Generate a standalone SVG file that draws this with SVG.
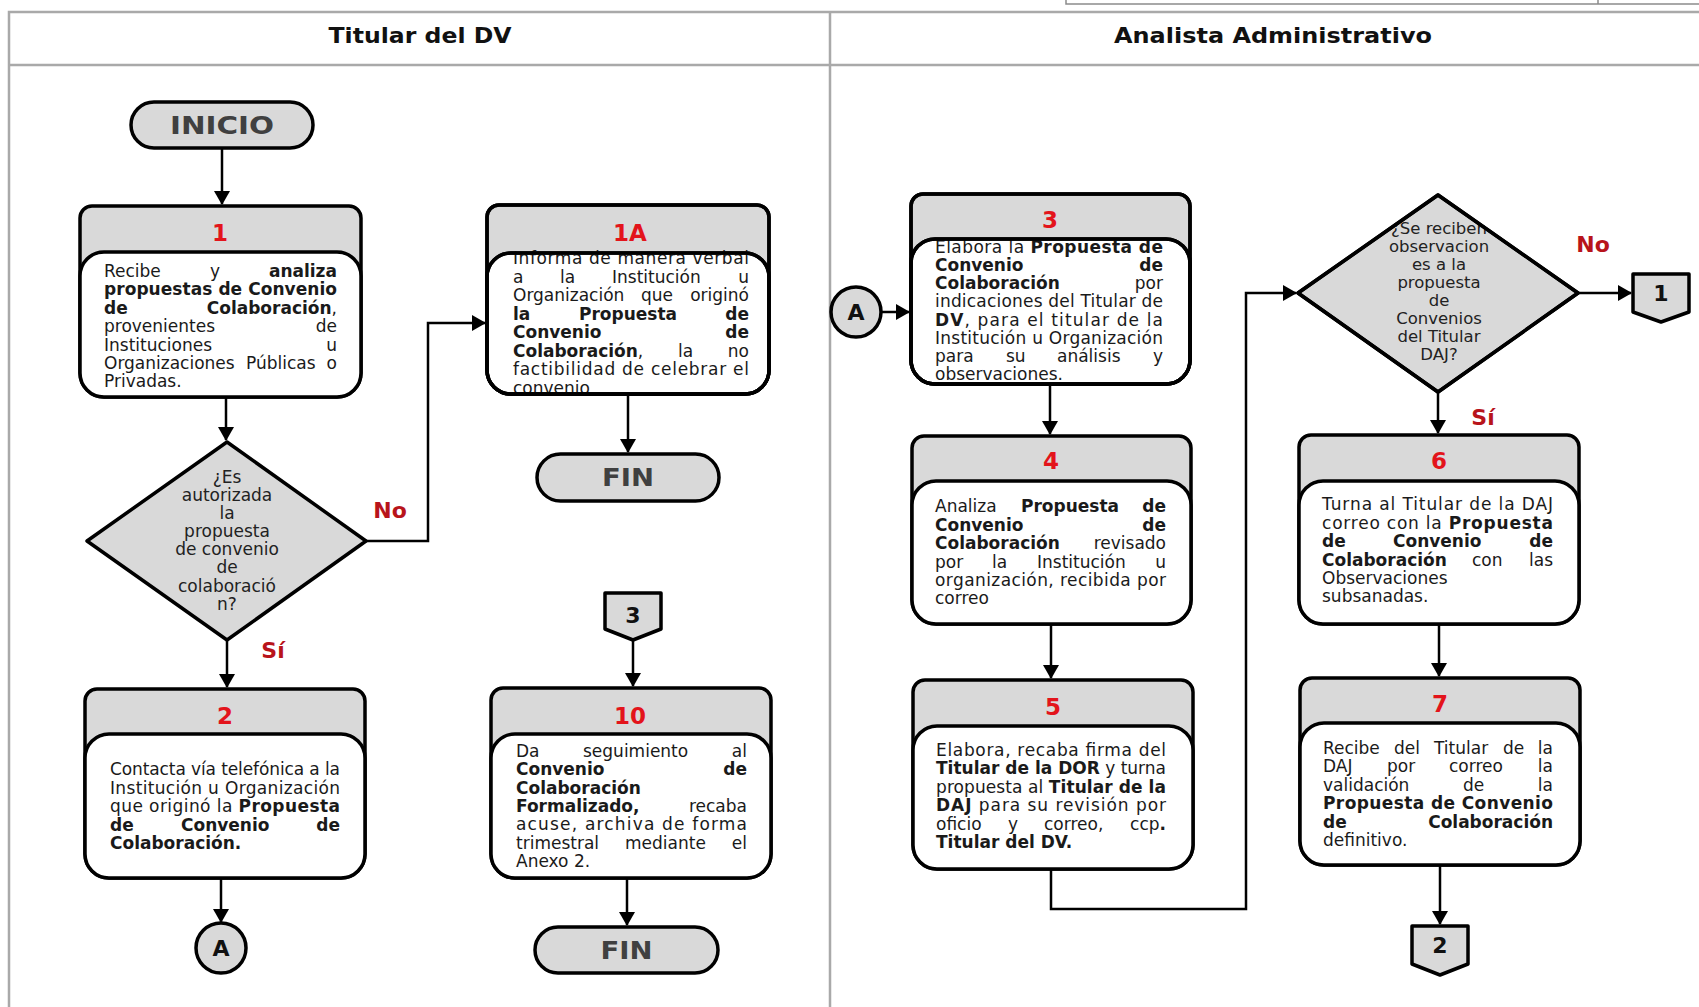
<svg xmlns="http://www.w3.org/2000/svg" width="1699" height="1007" viewBox="0 0 1699 1007">
  <defs>
    <style>
      .frame { fill: none; stroke: #a9a9a9; stroke-width: 2.5; }
      .tbox { fill: none; stroke: #8c8c8c; stroke-width: 1.5; }
      .hdr { font-family: "DejaVu Sans", Verdana, sans-serif; font-weight: bold; font-size: 22px; fill: #111; text-anchor: middle; }
      .shape { fill: #d9d9d9; stroke: #000; stroke-width: 3.5; stroke-linejoin: round; }
      .white { fill: #fff; stroke: #000; stroke-width: 3.5; }
      .outline { fill: none; stroke: #000; stroke-width: 3.5; stroke-linejoin: round; }
      .num { font-family: "DejaVu Sans", Verdana, sans-serif; font-weight: bold; font-size: 23px; fill: #e3141b; text-anchor: middle; }
      .t { font-family: "DejaVu Sans", Verdana, sans-serif; font-size: 17px; fill: #1a1a1a; }
      .q { font-family: "DejaVu Sans", Verdana, sans-serif; font-size: 17px; fill: #222; text-anchor: middle; }
      .b { font-weight: bold; }
      .e { text-anchor: end; }
      .term { font-family: "DejaVu Sans", Verdana, sans-serif; font-weight: bold; font-size: 24px; fill: #404040; text-anchor: middle; }
      .conn { font-family: "DejaVu Sans", Verdana, sans-serif; font-weight: bold; font-size: 22px; fill: #111; text-anchor: middle; }
      .lbl { font-family: "DejaVu Sans", Verdana, sans-serif; font-weight: bold; font-size: 22px; fill: #b8141b; text-anchor: middle; }
      .wire { fill: none; stroke: #000; stroke-width: 2.5; }
    </style>
    <marker id="ah" viewBox="0 0 14 16" refX="13" refY="8" markerWidth="14" markerHeight="16" markerUnits="userSpaceOnUse" orient="auto">
      <path d="M0,0 L14,8 L0,16 Z" fill="#000"/>
    </marker>
  </defs>

  <rect width="1699" height="1007" fill="#fff"/>

  <!-- swimlane frame -->
  <g id="lanes">
    <path class="tbox" d="M1066,-2 V4 H1699 M1598,-2 V4"/>
    <path class="frame" d="M9,1010 V12 H1702 M9,65 H1702 M830,12 V1010"/>
    <text class="hdr" x="420" y="43" textLength="183" lengthAdjust="spacingAndGlyphs">Titular del DV</text>
    <text class="hdr" x="1273" y="43" textLength="318" lengthAdjust="spacingAndGlyphs">Analista Administrativo</text>
  </g>

  <!-- connectors -->
  <g id="connectors" class="wire">
    <path d="M222,148 V204" marker-end="url(#ah)"/>
    <path d="M226,397 V440" marker-end="url(#ah)"/>
    <path d="M366,541 H428 V323 H485" marker-end="url(#ah)"/>
    <path d="M227,640 V687" marker-end="url(#ah)"/>
    <path d="M221,878 V922" marker-end="url(#ah)"/>
    <path d="M628,394 V452" marker-end="url(#ah)"/>
    <path d="M633,640 V686" marker-end="url(#ah)"/>
    <path d="M627,878 V925" marker-end="url(#ah)"/>
    <path d="M881,312 H909" marker-end="url(#ah)"/>
    <path d="M1050,384 V434" marker-end="url(#ah)"/>
    <path d="M1051,624 V678" marker-end="url(#ah)"/>
    <path d="M1051,869 V909 H1246 V293 H1296" marker-end="url(#ah)"/>
    <path d="M1578,293 H1631" marker-end="url(#ah)"/>
    <path d="M1438,392 V433" marker-end="url(#ah)"/>
    <path d="M1439,624 V676" marker-end="url(#ah)"/>
    <path d="M1440,865 V924" marker-end="url(#ah)"/>
  </g>

  <!-- Titular del DV lane -->
  <g id="n-inicio">
    <rect class="shape" x="131" y="102" width="182" height="46" rx="23"/>
    <text class="term" x="222" y="134" textLength="104" lengthAdjust="spacingAndGlyphs">INICIO</text>
  </g>

  <g id="n-1">
    <path class="shape" d="M80,218 A12,12 0 0 1 92,206 H349 A12,12 0 0 1 361,218 V373 A24,24 0 0 1 337,397 H104 A24,24 0 0 1 80,373 Z"/>
    <rect class="white" x="80" y="252" width="281" height="145" rx="24"/>
    <text class="num" x="220" y="241">1</text>
    <text class="t" x="104" y="277">Recibe</text>
    <text class="t" x="210" y="277">y</text>
    <text class="t b e" x="337" y="277">analiza</text>
    <text class="t b" x="104" y="295.4" textLength="233">propuestas de Convenio</text>
    <text class="t b" x="104" y="313.8">de</text>
    <text class="t e" x="337" y="313.8"><tspan class="b">Colaboración</tspan>,</text>
    <text class="t" x="104" y="332.2">provenientes</text>
    <text class="t e" x="337" y="332.2">de</text>
    <text class="t" x="104" y="350.6">Instituciones</text>
    <text class="t e" x="337" y="350.6">u</text>
    <text class="t" x="104" y="369">Organizaciones</text>
    <text class="t" x="246" y="369">Públicas</text>
    <text class="t e" x="337" y="369">o</text>
    <text class="t" x="104" y="387.4">Privadas.</text>
  </g>

  <g id="n-d1">
    <path class="shape" d="M227,442 L366,541 L227,640 L87,541 Z"/>
    <text class="q" x="227" y="483">¿Es</text>
    <text class="q" x="227" y="501">autorizada</text>
    <text class="q" x="227" y="519">la</text>
    <text class="q" x="227" y="537">propuesta</text>
    <text class="q" x="227" y="555">de convenio</text>
    <text class="q" x="227" y="573">de</text>
    <text class="q" x="227" y="592">colaboració</text>
    <text class="q" x="227" y="610">n?</text>
  </g>
  <text class="lbl" x="390" y="518">No</text>
  <text class="lbl" x="273" y="658">Sí</text>

  <g id="n-1a">
    <path class="shape" d="M487,217 A12,12 0 0 1 499,205 H757 A12,12 0 0 1 769,217 V370 A24,24 0 0 1 745,394 H511 A24,24 0 0 1 487,370 Z"/>
    <rect class="white" x="487" y="253" width="282" height="141" rx="24"/>
    <text class="num" x="630" y="241">1A</text>
    <text class="t" x="513" y="264" textLength="236">Informa de manera verbal</text>
    <text class="t" x="513" y="282.6">a</text>
    <text class="t" x="560" y="282.6">la</text>
    <text class="t" x="612" y="282.6">Institución</text>
    <text class="t e" x="749" y="282.6">u</text>
    <text class="t" x="513" y="301.1">Organización</text>
    <text class="t" x="641" y="301.1">que</text>
    <text class="t e" x="749" y="301.1">originó</text>
    <text class="t b" x="513" y="319.7">la</text>
    <text class="t b" x="579" y="319.7">Propuesta</text>
    <text class="t b e" x="749" y="319.7">de</text>
    <text class="t b" x="513" y="338.3">Convenio</text>
    <text class="t b e" x="749" y="338.3">de</text>
    <text class="t" x="513" y="356.9"><tspan class="b">Colaboración</tspan>,</text>
    <text class="t" x="678" y="356.9">la</text>
    <text class="t e" x="749" y="356.9">no</text>
    <text class="t" x="513" y="375.4" textLength="236">factibilidad de celebrar el</text>
    <text class="t" x="513" y="394">convenio</text>
    <path class="outline" d="M487,217 A12,12 0 0 1 499,205 H757 A12,12 0 0 1 769,217 V370 A24,24 0 0 1 745,394 H511 A24,24 0 0 1 487,370 Z"/>
    <rect class="outline" x="487" y="253" width="282" height="141" rx="24"/>
  </g>

  <g id="n-fin1">
    <rect class="shape" x="537" y="454" width="182" height="47" rx="23.5"/>
    <text class="term" x="628" y="486" textLength="52" lengthAdjust="spacingAndGlyphs">FIN</text>
  </g>

  <g id="n-2">
    <path class="shape" d="M85,701 A12,12 0 0 1 97,689 H353 A12,12 0 0 1 365,701 V854 A24,24 0 0 1 341,878 H109 A24,24 0 0 1 85,854 Z"/>
    <rect class="white" x="85" y="734" width="280" height="144" rx="24"/>
    <text class="num" x="225" y="724">2</text>
    <text class="t" x="110" y="775" textLength="230">Contacta vía telefónica a la</text>
    <text class="t" x="110" y="793.5" textLength="230">Institución u Organización</text>
    <text class="t" x="110" y="812" textLength="230">que originó la <tspan class="b">Propuesta</tspan></text>
    <text class="t b" x="110" y="830.5">de</text>
    <text class="t b" x="181" y="830.5">Convenio</text>
    <text class="t b e" x="340" y="830.5">de</text>
    <text class="t b" x="110" y="849">Colaboración.</text>
  </g>

  <g id="n-a1">
    <circle class="shape" cx="221" cy="948" r="25"/>
    <text class="conn" x="221" y="956">A</text>
  </g>

  <g id="n-c3">
    <path class="shape" d="M605,593 H661 V629 L633,640 L605,629 Z"/>
    <text class="conn" x="633" y="623">3</text>
  </g>

  <g id="n-10">
    <path class="shape" d="M491,700 A12,12 0 0 1 503,688 H759 A12,12 0 0 1 771,700 V854 A24,24 0 0 1 747,878 H515 A24,24 0 0 1 491,854 Z"/>
    <rect class="white" x="491" y="734" width="280" height="144" rx="24"/>
    <text class="num" x="630" y="724">10</text>
    <text class="t" x="516" y="757">Da</text>
    <text class="t" x="583" y="757">seguimiento</text>
    <text class="t e" x="747" y="757">al</text>
    <text class="t b" x="516" y="775.3">Convenio</text>
    <text class="t b e" x="747" y="775.3">de</text>
    <text class="t b" x="516" y="793.6">Colaboración</text>
    <text class="t b" x="516" y="811.9">Formalizado,</text>
    <text class="t e" x="747" y="811.9">recaba</text>
    <text class="t" x="516" y="830.2" textLength="231">acuse, archiva de forma</text>
    <text class="t" x="516" y="848.5">trimestral</text>
    <text class="t" x="625" y="848.5">mediante</text>
    <text class="t e" x="747" y="848.5">el</text>
    <text class="t" x="516" y="866.8">Anexo 2.</text>
  </g>

  <g id="n-fin2">
    <rect class="shape" x="535" y="927" width="183" height="46" rx="23"/>
    <text class="term" x="626.5" y="959" textLength="52" lengthAdjust="spacingAndGlyphs">FIN</text>
  </g>

  <!-- Analista Administrativo lane -->
  <g id="n-a2">
    <circle class="shape" cx="856" cy="312" r="25"/>
    <text class="conn" x="856" y="320">A</text>
  </g>

  <g id="n-3">
    <path class="shape" d="M911,206 A12,12 0 0 1 923,194 H1178 A12,12 0 0 1 1190,206 V360 A24,24 0 0 1 1166,384 H935 A24,24 0 0 1 911,360 Z"/>
    <rect class="white" x="911" y="239" width="279" height="145" rx="24"/>
    <text class="num" x="1050" y="228">3</text>
    <text class="t" x="935" y="252.7" textLength="228">Elabora la <tspan class="b">Propuesta de</tspan></text>
    <text class="t b" x="935" y="270.9">Convenio</text>
    <text class="t b e" x="1163" y="270.9">de</text>
    <text class="t b" x="935" y="289.1">Colaboración</text>
    <text class="t e" x="1163" y="289.1">por</text>
    <text class="t" x="935" y="307.3" textLength="228">indicaciones del Titular de</text>
    <text class="t" x="935" y="325.5" textLength="228"><tspan class="b">DV</tspan>, para el titular de la</text>
    <text class="t" x="935" y="343.7" textLength="228">Institución u Organización</text>
    <text class="t" x="935" y="361.9">para</text>
    <text class="t" x="1006" y="361.9">su</text>
    <text class="t" x="1057" y="361.9">análisis</text>
    <text class="t e" x="1163" y="361.9">y</text>
    <text class="t" x="935" y="380.1">observaciones.</text>
    <path class="outline" d="M911,206 A12,12 0 0 1 923,194 H1178 A12,12 0 0 1 1190,206 V360 A24,24 0 0 1 1166,384 H935 A24,24 0 0 1 911,360 Z"/>
    <rect class="outline" x="911" y="239" width="279" height="145" rx="24"/>
  </g>

  <g id="n-4">
    <path class="shape" d="M912,448 A12,12 0 0 1 924,436 H1179 A12,12 0 0 1 1191,448 V600 A24,24 0 0 1 1167,624 H936 A24,24 0 0 1 912,600 Z"/>
    <rect class="white" x="912" y="481" width="279" height="143" rx="24"/>
    <text class="num" x="1051" y="469">4</text>
    <text class="t" x="935" y="512.3">Analiza</text>
    <text class="t b" x="1021" y="512.3">Propuesta</text>
    <text class="t b e" x="1166" y="512.3">de</text>
    <text class="t b" x="935" y="530.7">Convenio</text>
    <text class="t b e" x="1166" y="530.7">de</text>
    <text class="t b" x="935" y="549.1">Colaboración</text>
    <text class="t e" x="1166" y="549.1">revisado</text>
    <text class="t" x="935" y="567.5">por</text>
    <text class="t" x="992" y="567.5">la</text>
    <text class="t" x="1037" y="567.5">Institución</text>
    <text class="t e" x="1166" y="567.5">u</text>
    <text class="t" x="935" y="585.9" textLength="231">organización, recibida por</text>
    <text class="t" x="935" y="604.3">correo</text>
  </g>

  <g id="n-5">
    <path class="shape" d="M913,692 A12,12 0 0 1 925,680 H1181 A12,12 0 0 1 1193,692 V845 A24,24 0 0 1 1169,869 H937 A24,24 0 0 1 913,845 Z"/>
    <rect class="white" x="913" y="726" width="280" height="143" rx="24"/>
    <text class="num" x="1053" y="715">5</text>
    <text class="t" x="936" y="756" textLength="230">Elabora, recaba firma del</text>
    <text class="t" x="936" y="774.4" textLength="230"><tspan class="b">Titular de la DOR</tspan> y turna</text>
    <text class="t" x="936" y="792.8" textLength="230">propuesta al <tspan class="b">Titular de la</tspan></text>
    <text class="t" x="936" y="811.2" textLength="230"><tspan class="b">DAJ</tspan> para su revisión por</text>
    <text class="t" x="936" y="829.6">oficio</text>
    <text class="t" x="1008" y="829.6">y</text>
    <text class="t" x="1044" y="829.6">correo,</text>
    <text class="t e" x="1166" y="829.6">ccp<tspan class="b">.</tspan></text>
    <text class="t b" x="936" y="848">Titular del DV.</text>
  </g>

  <g id="n-d2">
    <path class="shape" d="M1438,195 L1578,293 L1438,392 L1298,293 Z"/>
    <text class="q" x="1439" y="234" style="font-size:16.5px">¿Se reciben</text>
    <text class="q" x="1439" y="252" style="font-size:16.5px">observacion</text>
    <text class="q" x="1439" y="270" style="font-size:16.5px">es a la</text>
    <text class="q" x="1439" y="288" style="font-size:16.5px">propuesta</text>
    <text class="q" x="1439" y="306" style="font-size:16.5px">de</text>
    <text class="q" x="1439" y="324" style="font-size:16.5px">Convenios</text>
    <text class="q" x="1439" y="342" style="font-size:16.5px">del Titular</text>
    <text class="q" x="1439" y="360" style="font-size:16.5px">DAJ?</text>
    <path class="outline" d="M1438,195 L1578,293 L1438,392 L1298,293 Z"/>
  </g>
  <text class="lbl" x="1593" y="252">No</text>
  <text class="lbl" x="1483" y="425">Sí</text>

  <g id="n-c1">
    <path class="shape" d="M1633,274 H1689 V312 L1661,322 L1633,312 Z"/>
    <text class="conn" x="1661" y="301">1</text>
  </g>

  <g id="n-6">
    <path class="shape" d="M1299,447 A12,12 0 0 1 1311,435 H1567 A12,12 0 0 1 1579,447 V600 A24,24 0 0 1 1555,624 H1323 A24,24 0 0 1 1299,600 Z"/>
    <rect class="white" x="1299" y="481" width="280" height="143" rx="24"/>
    <text class="num" x="1439" y="469">6</text>
    <text class="t" x="1322" y="510.3" textLength="231">Turna al Titular de la DAJ</text>
    <text class="t" x="1322" y="528.7" textLength="231">correo con la <tspan class="b">Propuesta</tspan></text>
    <text class="t b" x="1322" y="547.1">de</text>
    <text class="t b" x="1393" y="547.1">Convenio</text>
    <text class="t b e" x="1553" y="547.1">de</text>
    <text class="t b" x="1322" y="565.5">Colaboración</text>
    <text class="t" x="1472" y="565.5">con</text>
    <text class="t e" x="1553" y="565.5">las</text>
    <text class="t" x="1322" y="583.9">Observaciones</text>
    <text class="t" x="1322" y="602.3">subsanadas.</text>
  </g>

  <g id="n-7">
    <path class="shape" d="M1300,690 A12,12 0 0 1 1312,678 H1568 A12,12 0 0 1 1580,690 V841 A24,24 0 0 1 1556,865 H1324 A24,24 0 0 1 1300,841 Z"/>
    <rect class="white" x="1300" y="723" width="280" height="142" rx="24"/>
    <text class="num" x="1440" y="712">7</text>
    <text class="t" x="1323" y="754">Recibe</text>
    <text class="t" x="1394" y="754">del</text>
    <text class="t" x="1434" y="754">Titular</text>
    <text class="t" x="1503" y="754">de</text>
    <text class="t e" x="1553" y="754">la</text>
    <text class="t" x="1323" y="772.4">DAJ</text>
    <text class="t" x="1387" y="772.4">por</text>
    <text class="t" x="1449" y="772.4">correo</text>
    <text class="t e" x="1553" y="772.4">la</text>
    <text class="t" x="1323" y="790.8">validación</text>
    <text class="t" x="1463" y="790.8">de</text>
    <text class="t e" x="1553" y="790.8">la</text>
    <text class="t b" x="1323" y="809.2" textLength="230">Propuesta de Convenio</text>
    <text class="t b" x="1323" y="827.6">de</text>
    <text class="t b e" x="1553" y="827.6">Colaboración</text>
    <text class="t" x="1323" y="846">definitivo.</text>
  </g>

  <g id="n-c2">
    <path class="shape" d="M1412,926 H1468 V964 L1440,975 L1412,964 Z"/>
    <text class="conn" x="1440" y="953">2</text>
  </g>
</svg>
